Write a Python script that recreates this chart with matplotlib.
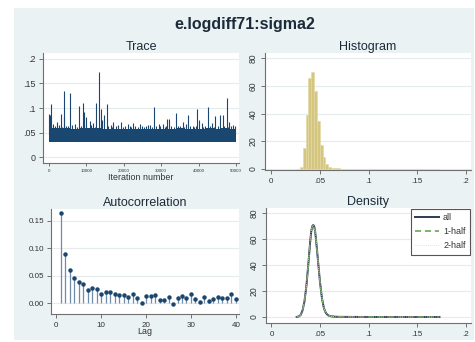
import matplotlib
matplotlib.use("Agg")
import matplotlib.pyplot as plt
from matplotlib.patches import Rectangle

plt.rcParams["font.family"] = ["Liberation Sans", "DejaVu Sans"]

# ---------------- data ----------------
# Trace: MCMC band envelope per 2000-iteration block, plus isolated spikes
block_start = [0, 2000, 4000, 6000, 8000, 10000, 12000, 14000, 16000, 18000,
               20000, 22000, 24000, 26000, 28000, 30000, 32000, 34000, 36000,
               38000, 40000, 42000, 44000, 46000, 48000, 50000]
band_upper = [0.060, 0.059, 0.060, 0.058, 0.059, 0.060, 0.059, 0.058, 0.058,
              0.058, 0.057, 0.058, 0.058, 0.057, 0.058, 0.058, 0.058, 0.059,
              0.058, 0.058, 0.058, 0.059, 0.058, 0.059, 0.058, 0.058]
band_lower = [0.031, 0.031, 0.032, 0.031, 0.032, 0.031, 0.031, 0.032, 0.032,
              0.031, 0.032, 0.032, 0.031, 0.032, 0.032, 0.031, 0.032, 0.032,
              0.031, 0.032, 0.032, 0.031, 0.032, 0.032, 0.031, 0.031]
spike_iter = [100, 270, 450, 2050, 3200, 3900, 4000, 5500, 8100, 9200, 9450,
              10000, 10900, 12500, 13300, 13800, 14300, 14800, 15400, 17200,
              19300, 22500, 26500, 28200, 30400, 31500, 32100, 33900, 35800,
              37200, 39700, 40200, 40900, 42600, 44500, 45800, 46500, 47500,
              48200, 1200, 6900, 11800, 16500, 21000, 24300, 27000, 29300,
              36600, 43500, 49200,
              600, 1600, 2600, 3600, 4500, 5000, 6200, 7400, 8600, 9800,
              11300, 12200, 14000, 15900, 16900, 17800, 18500, 19800, 20400,
              21600, 22000, 23100, 23700, 24800, 25400, 26000, 27600, 28700,
              29800, 30900, 31200, 32700, 33300, 34500, 35100, 36100, 37700,
              38400, 38900, 39300, 41300, 41800, 43100, 44000, 45200, 46900,
              47900, 48700, 49600]
spike_val = [0.088, 0.086, 0.1075, 0.072, 0.087, 0.135, 0.082, 0.131, 0.104,
             0.111, 0.091, 0.082, 0.073, 0.1095, 0.173, 0.097, 0.076, 0.086,
             0.109, 0.072, 0.072, 0.069, 0.066, 0.103, 0.068, 0.077, 0.077,
             0.090, 0.072, 0.085, 0.097, 0.076, 0.070, 0.103, 0.083, 0.085,
             0.085, 0.121, 0.071, 0.068, 0.067, 0.069, 0.066, 0.067, 0.068,
             0.066, 0.067, 0.068, 0.069, 0.066,
             0.064, 0.063, 0.065, 0.062, 0.064, 0.063, 0.066, 0.062, 0.064,
             0.063, 0.065, 0.062, 0.064, 0.063, 0.062, 0.064, 0.065, 0.062,
             0.063, 0.064, 0.062, 0.063, 0.062, 0.064, 0.062, 0.063, 0.062,
             0.064, 0.063, 0.062, 0.064, 0.063, 0.062, 0.063, 0.064, 0.062,
             0.063, 0.064, 0.062, 0.063, 0.062, 0.064, 0.063, 0.062, 0.064,
             0.063, 0.062, 0.064, 0.063]

# Histogram: bin left edges (width 0.0029) and densities
bin_width = 0.0029
bin_left = [0.0268, 0.0297, 0.0326, 0.0355, 0.0384, 0.0413, 0.0442, 0.0471,
            0.0500, 0.0529, 0.0558, 0.0587, 0.0616, 0.0645, 0.0674, 0.0703,
            0.0732, 0.0761, 0.0790, 0.0819, 0.0848, 0.0877, 0.0906, 0.0935,
            0.0964, 0.0993, 0.1022, 0.1051, 0.1080, 0.1109, 0.1138, 0.1167,
            0.1196, 0.1225, 0.1254, 0.1283, 0.1312, 0.1341, 0.1370, 0.1399,
            0.1428, 0.1457, 0.1486, 0.1515, 0.1544, 0.1573, 0.1602, 0.1631,
            0.1660, 0.1689]
hist_density = [0.2, 1.5, 15.0, 39.0, 66.0, 70.0, 56.0, 35.0, 17.5, 9.0, 3.5,
                1.6, 0.8, 0.5, 0.4, 0.3, 0.2, 0.15, 0.1, 0.1, 0.1, 0.1, 0.05,
                0.1, 0.1, 0.1, 0.1, 0.1, 0.1, 0.05, 0.05, 0.1, 0.05, 0.0,
                0.05, 0.1, 0.1, 0.0, 0.0, 0.0, 0.0, 0.0, 0.0, 0.0, 0.0, 0.0,
                0.0, 0.0, 0.05, 0.05]

# Autocorrelation by lag
lags = list(range(1, 41))
acf = [0.163, 0.089, 0.0605, 0.045, 0.039, 0.0345, 0.024, 0.027, 0.026,
       0.0175, 0.020, 0.0205, 0.016, 0.015, 0.0145, 0.012, 0.016, 0.0097,
       0.001, 0.0127, 0.0127, 0.015, 0.006, 0.006, 0.012, -0.001, 0.009,
       0.013, 0.010, 0.016, 0.0085, 0.002, 0.011, 0.005, 0.008, 0.011, 0.009,
       0.0097, 0.016, 0.008]

# Kernel density: all draws and the two halves of the chain
dens_x = [0.026, 0.028, 0.030, 0.032, 0.034, 0.036, 0.038, 0.040, 0.041,
          0.042, 0.043, 0.044, 0.045, 0.046, 0.047, 0.048, 0.050, 0.052,
          0.054, 0.056, 0.058, 0.060, 0.063, 0.066, 0.070, 0.080, 0.100,
          0.130, 0.173]
dens_all = [0.1, 0.4, 1.5, 5.0, 12.0, 24.0, 41.0, 59.0, 66.0, 70.0, 71.0,
            70.0, 66.0, 59.0, 51.0, 43.0, 27.0, 14.5, 7.0, 3.2, 1.5, 0.8, 0.4,
            0.25, 0.15, 0.1, 0.05, 0.03, 0.02]
dens_half1 = [0.1, 0.4, 1.5, 5.0, 12.0, 24.0, 41.0, 59.0, 66.0, 70.0, 71.0,
              70.0, 66.0, 59.0, 51.0, 43.0, 27.0, 14.5, 7.0, 3.2, 1.5, 0.8,
              0.4, 0.25, 0.15, 0.1, 0.05, 0.03, 0.02]
dens_half2 = [0.1, 0.4, 1.5, 5.0, 12.0, 24.0, 41.0, 59.0, 66.0, 70.0, 71.0,
              70.0, 66.0, 59.0, 51.0, 43.0, 27.0, 14.5, 7.0, 3.2, 1.5, 0.8,
              0.4, 0.25, 0.15, 0.1, 0.05, 0.03, 0.02]

# ---------------- styling ----------------
W, H = 475, 342
BG = "#EAF2F3"
NAVY = "#1a476f"
AXC = "#707070"
TXT = "#333333"
TITLE_C = "#1c2b3a"

fig = plt.figure(figsize=(W / 100, H / 100), dpi=100, facecolor="white")
fig.add_artist(Rectangle((14 / W, 1 - 340 / H), 460 / W, 332 / H,
                         transform=fig.transFigure, facecolor=BG,
                         edgecolor="none", zorder=-10))


def box(l, t, r, b):
    return [l / W, 1 - b / H, (r - l) / W, (b - t) / H]


def style(ax, title, fs_tick=5.8):
    ax.set_facecolor("white")
    for s in ("top", "right"):
        ax.spines[s].set_visible(False)
    for s in ("left", "bottom"):
        ax.spines[s].set_color(AXC)
        ax.spines[s].set_linewidth(0.8)
    ax.tick_params(colors=AXC, labelcolor=TXT, length=3, width=0.7,
                   labelsize=fs_tick, pad=2)
    ax.yaxis.grid(True, color="#e4ecee", linewidth=0.8)
    ax.set_axisbelow(True)
    ax.set_title(title, fontsize=9, color=TITLE_C, pad=2.5)


fig.text(245 / W, 1 - 24 / H, "e.logdiff71:sigma2", ha="center", va="center",
         fontsize=11.5, fontweight="bold", color=TITLE_C)

# Trace
ax1 = fig.add_axes(box(43, 53, 239, 163))
style(ax1, "Trace")
ax1.fill_between(block_start, band_lower, band_upper, step="post",
                 color=NAVY, linewidth=0, zorder=2)
ax1.vlines(spike_iter, 0.045, spike_val, color=NAVY, linewidth=0.8, zorder=3)
ax1.set_xlim(-1600, 50800)
ax1.set_ylim(-0.0116, 0.2116)
ax1.set_yticks([0, 0.05, 0.1, 0.15, 0.2])
ax1.set_yticklabels(["0", ".05", ".1", ".15", ".2"], fontsize=6.4)
ax1.set_xticks([0, 10000, 20000, 30000, 40000, 50000])
ax1.set_xticklabels(["0", "10000", "20000", "30000", "40000", "50000"],
                    fontsize=3.2)
ax1.tick_params(axis="x", length=2, pad=2.5)
ax1.set_xlabel("Iteration number", fontsize=6.4, color=TXT, labelpad=0)

# Histogram
ax2 = fig.add_axes(box(265, 53, 471, 170))
style(ax2, "Histogram")
ax2.bar(bin_left, hist_density, width=bin_width, align="edge",
        color="#d4c67e", edgecolor="#e4d9a6", linewidth=0.4, zorder=2)
ax2.set_xlim(-0.00615, 0.2051)
ax2.set_ylim(-0.72, 83.8)
ax2.set_xticks([0, 0.05, 0.1, 0.15, 0.2])
ax2.set_xticklabels(["0", ".05", ".1", ".15", ".2"])
ax2.set_yticks([0, 20, 40, 60, 80])
ax2.set_yticklabels(["0", "20", "40", "60", "80"], rotation=90,
                    va="center", fontsize=6.2)
ax2.tick_params(axis="x", pad=3)

# Autocorrelation
ax3 = fig.add_axes(box(51, 209, 239, 314))
style(ax3, "Autocorrelation")
ax3.vlines(lags, 0, acf, color="#6f8cab", linewidth=0.9, zorder=2)
ax3.plot(lags, acf, "o", color=NAVY, markersize=2.2, zorder=3)
ax3.set_xlim(-1.18, 40.7)
ax3.set_ylim(-0.0194, 0.171)
ax3.set_yticks([0, 0.05, 0.10, 0.15])
ax3.set_yticklabels(["0.00", "0.05", "0.10", "0.15"])
ax3.set_xticks([0, 10, 20, 30, 40])
ax3.tick_params(axis="x", pad=2.5)
ax3.set_xlabel("Lag", fontsize=6.4, color=TXT, labelpad=-1)

# Density
ax4 = fig.add_axes(box(266, 208, 471, 323))
style(ax4, "Density")
ax4.plot(dens_x, dens_all, color="#2e3b55", linewidth=1.4, label="all",
         zorder=2)
ax4.plot(dens_x, dens_half1, color="#5f9a50", linewidth=1.1,
         linestyle=(0, (4, 2.5)), label="1-half", zorder=3)
ax4.plot(dens_x, dens_half2, color="#f6c6dd", linewidth=0.6,
         linestyle=(0, (1, 1.5)), label="2-half", zorder=4)
ax4.set_xlim(-0.0056, 0.2055)
ax4.set_ylim(-4.6, 84.1)
ax4.set_xticks([0, 0.05, 0.1, 0.15, 0.2])
ax4.set_xticklabels(["0", ".05", ".1", ".15", ".2"])
ax4.set_yticks([0, 20, 40, 60, 80])
ax4.set_yticklabels(["0", "20", "40", "60", "80"], rotation=90,
                    va="center", fontsize=6.2)
ax4.tick_params(axis="x", pad=3)
leg = ax4.legend(loc="upper right", bbox_to_anchor=(1.0, 1.0), fontsize=6.5,
                 frameon=True, fancybox=False, framealpha=1,
                 edgecolor="#555555", handlelength=2.6, handletextpad=0.5,
                 borderpad=0.5, labelspacing=0.55, borderaxespad=0.1)
leg.get_frame().set_linewidth(0.8)
for t in leg.get_texts():
    t.set_color(TXT)

fig.savefig("out.png", dpi=100, facecolor="white")
